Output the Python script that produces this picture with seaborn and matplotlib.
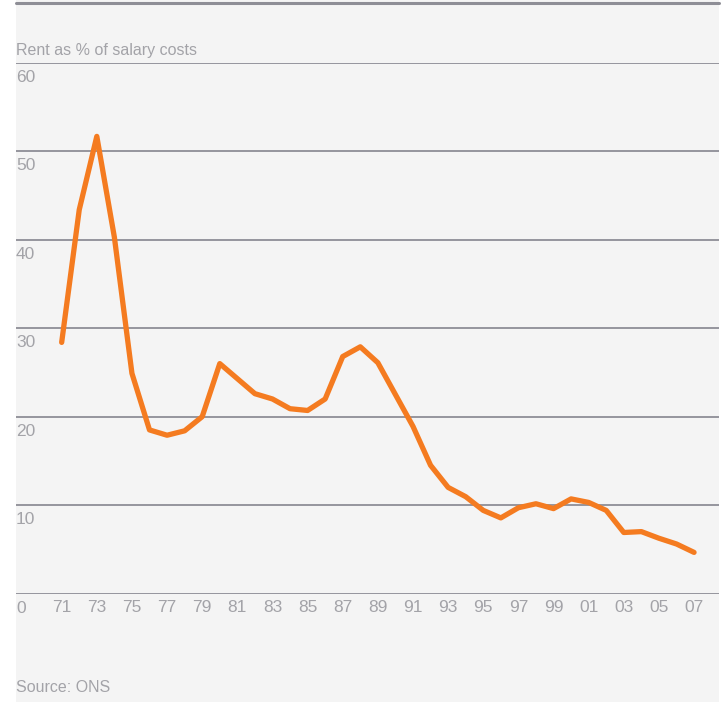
import matplotlib
matplotlib.use('Agg')
import matplotlib.pyplot as plt
import seaborn as sns
import pandas as pd
from matplotlib.lines import Line2D
from matplotlib.patches import Rectangle

# --- dados ---
anos = list(range(1971, 2008))
aluguel_pct = [28.4, 43.4, 51.7, 40.3, 24.9, 18.5, 17.9, 18.4, 20.0, 26.0,
               24.3, 22.6, 22.0, 20.9, 20.7, 22.0, 26.8, 27.9, 26.1, 22.5,
               18.9, 14.5, 12.0, 10.95, 9.4, 8.55, 9.7, 10.15, 9.6, 10.7,
               10.3, 9.4, 6.9, 7.0, 6.25, 5.6, 4.65]
yticks = [0, 10, 20, 30, 40, 50, 60]
xticks = list(range(1971, 2008, 2))
xlabels = [str(a)[2:] for a in xticks]

df = pd.DataFrame({'ano': anos, 'pct': aluguel_pct})

# --- estilo ---
sns.set_theme(style='white')
plt.rcParams['font.family'] = ['Liberation Sans', 'DejaVu Sans']
cinza_txt = '#a3a3a8'
cinza_linha = '#8e8e96'
fundo = '#f4f4f4'

fig = plt.figure(figsize=(7.26, 7.02), dpi=100)
W, H = 726, 702

# painel cinza de fundo (atrás dos eixos)
fig.patches.append(Rectangle((16 / W, 0), (719 - 16) / W, 1, transform=fig.transFigure,
                             facecolor=fundo, edgecolor='none', zorder=-5))
# linha superior
fig.lines.append(Line2D([16 / W, 719 / W], [1 - 2.5 / H, 1 - 2.5 / H], transform=fig.transFigure,
                        color=cinza_linha, lw=2.2))

ax = fig.add_axes([16 / W, (H - 593.5) / H, (719 - 16) / W, (593.5 - 63) / H])
ax.set_facecolor('none')
sns.lineplot(data=df, x='ano', y='pct', ax=ax, color='#f47b20', lw=3.8,
             solid_joinstyle='round', solid_capstyle='round', zorder=3)

ax.set_xlim(1968.4, 2008.42)
ax.set_ylim(0, 60)
for s in ax.spines.values():
    s.set_visible(False)
# linhas de grade e rótulos de y logo abaixo de cada linha
for v in yticks:
    ax.axhline(v, color=cinza_linha, lw=1.3, zorder=1)
    ax.text(0.0, v - 0.8, str(v), transform=ax.get_yaxis_transform(), ha='left', va='top',
            fontsize=12.5, color=cinza_txt)
ax.set_yticks([])
ax.set_xticks(xticks)
ax.set_xticklabels(xlabels)
ax.tick_params(axis='x', length=0, pad=5, labelsize=12.5, labelcolor=cinza_txt)
ax.set_xlabel('')
ax.set_ylabel('')

fig.text(16 / W, 1 - 50 / H, 'Rent as % of salary costs', ha='left', va='center',
         fontsize=11.5, color=cinza_txt)
fig.text(16 / W, 1 - 688 / H, 'Source: ONS', ha='left', va='center',
         fontsize=11.5, color=cinza_txt)

fig.savefig('out.png', dpi=100, facecolor='white')
